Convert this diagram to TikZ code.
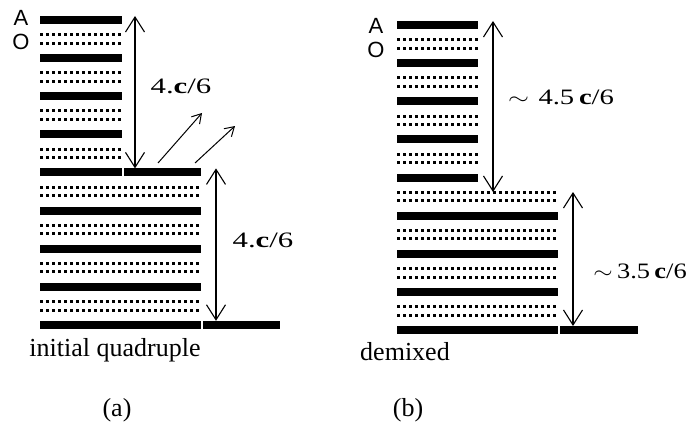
\documentclass[tikz,border=0pt]{standalone}
\usepackage{fontspec}
\setmainfont{Liberation Serif}
\newfontfamily\layerfont{Liberation Sans}
\usetikzlibrary{arrows.meta}
\tikzset{
  solidlayer/.style={line width=8pt},
  dotlayer/.style={line width=3pt, dash pattern=on 3pt off 3pt},
  dimline/.style={line width=1.1pt,
    {Straight Barb[length=15pt,width=19pt]}-{Straight Barb[length=15pt,width=19pt]}},
  escape/.style={line width=1pt, -{Straight Barb[length=9pt,width=11pt]}},
  dimlabel/.style={font=\fontsize{22}{26}\selectfont, inner sep=0pt},
  caption/.style={font=\fontsize{26}{30}\selectfont, inner sep=0pt},
  species/.style={font=\layerfont\fontsize{22}{24}\selectfont, inner sep=0pt},
}
% a full A layer and a doubled row of O dots
\newcommand\solidrow[3]{\draw[solidlayer] (#1,#3) -- (#2,#3);}
\newcommand\dotrow[3]{%
  \draw[dotlayer] (#1,#3-4.3) -- (#2,#3-4.3);
  \draw[dotlayer] (#1,#3+4.3) -- (#2,#3+4.3);}
\begin{document}
\begin{tikzpicture}[x=1pt,y=-1pt]
\useasboundingbox (0,0) rectangle (695,433);

% ---------- (a) initial quadruple ----------
\foreach \k in {0,...,3} {
  \pgfmathsetmacro\yb{20+38.1*\k}
  \solidrow{40}{122}{\yb}
  \dotrow{40}{122}{\yb+19.05}
}
\solidrow{40}{122}{172.4}
\solidrow{124}{201}{172.4}
\dotrow{40}{201}{191.45}
\foreach \k in {5,6,7} {
  \pgfmathsetmacro\yb{20+38.1*\k}
  \solidrow{40}{201}{\yb}
  \dotrow{40}{201}{\yb+19.05}
}
\solidrow{40}{201}{324.8}
\solidrow{203}{280}{324.8}

\node[species] (aA) at (21,18) {A};
\node[species] (aO) at (21,42) {O};

\coordinate (a1top) at (135,16);
\coordinate (a1bot) at (135,168.4);
\coordinate (a2top) at (216,168.4);
\coordinate (a2bot) at (216,320.8);
\draw[dimline] (a1top) -- (a1bot);
\draw[dimline] (a2top) -- (a2bot);

\coordinate (e1s) at (158,163);
\coordinate (e1e) at (202,113);
\coordinate (e2s) at (195,163);
\coordinate (e2e) at (235,126);
\draw[escape] (e1s) -- (e1e);
\draw[escape] (e2s) -- (e2e);

\node[dimlabel] (la1) at (181,86) {\scalebox{1.4}[1]{4.\textbf{c}/6}};
\node[dimlabel] (la2) at (263,240) {\scalebox{1.4}[1]{4.\textbf{c}/6}};

\node[caption] (capa) at (115,350) {initial quadruple};
\node[caption] (taga) at (117,410) {(a)};

% ---------- (b) demixed ----------
\foreach \k in {0,...,3} {
  \pgfmathsetmacro\yb{25+38.125*\k}
  \solidrow{397}{478}{\yb}
  \dotrow{397}{478}{\yb+19.06}
}
\solidrow{397}{478}{177.5}
\dotrow{397}{558}{196.56}
\foreach \k in {5,6,7} {
  \pgfmathsetmacro\yb{25+38.125*\k}
  \solidrow{397}{558}{\yb}
  \dotrow{397}{558}{\yb+19.06}
}
\solidrow{397}{558}{330}
\solidrow{560}{638}{330}

\node[species] (bA) at (376,26) {A};
\node[species] (bO) at (376,50) {O};

\coordinate (b1top) at (493,21);
\coordinate (b1bot) at (493,192);
\coordinate (b2top) at (573,192);
\coordinate (b2bot) at (573,326);
\draw[dimline] (b1top) -- (b1bot);
\draw[dimline] (b2top) -- (b2bot);

\node[dimlabel] (lb1) at (561,97) {\scalebox{1.3}[1]{$\sim$\,\,4.5\,\textbf{c}/6}};
\node[dimlabel] (lb2) at (640,271) {\scalebox{1.2}[1]{$\sim$\,3.5\,\textbf{c}/6}};

\node[caption] (capb) at (405,352) {demixed};
\node[caption] (tagb) at (408,410) {(b)};
\end{tikzpicture}
\end{document}
